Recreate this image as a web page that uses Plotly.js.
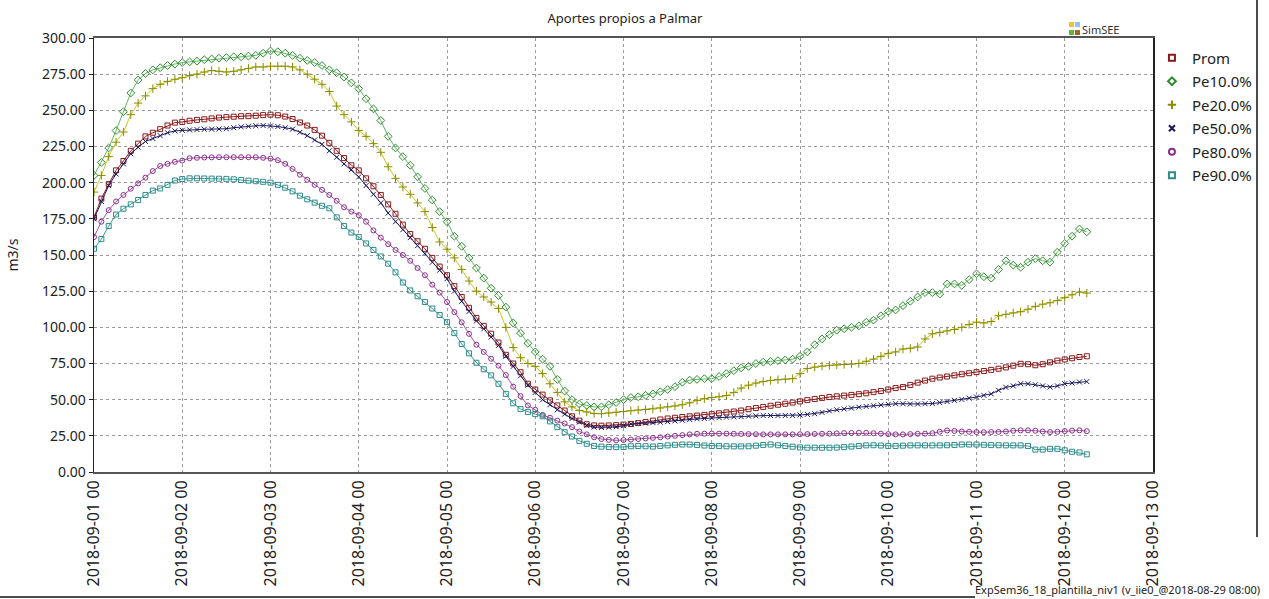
<!DOCTYPE html>
<html><head><meta charset="utf-8">
<script src="https://cdn.plot.ly/plotly-3.0.1.min.js"></script>
<style>html,body{margin:0;padding:0;background:#fff;}#chart{width:1269px;height:599px;}</style>
</head><body><div id="chart"></div><script>
// Time grid: first sample and sampling step (hours)
const startTime = Date.UTC(2018, 8, 1, 0, 0, 0);
const stepHours = 2;

const seriesNames = ['Prom', 'Pe10.0%', 'Pe20.0%', 'Pe50.0%', 'Pe80.0%', 'Pe90.0%'];

const prom = [
176,189,199,208.5,215,222,227,232,234.5,237,
239.5,241.5,242,242.8,243.4,243.8,244.4,245,245.3,245.6,
245.9,246,246.3,246.7,247,246.6,245.7,244,241.6,239.5,
236.5,232.5,227.5,222,217,212,208.5,203,197.5,191.5,
185,178.5,171,164.5,159.5,154.3,148,142,136,128.5,
121,113.5,106.5,101,95.6,89.5,81,75,69,61,
57,53.5,49.5,46,42.5,38.5,35.5,33,32.2,32,
32.2,32.4,32.8,33.2,33.8,34.6,35.5,36.3,37,37.5,
38,38.5,39,39.5,40,40.6,41.2,41.8,42.5,43.4,
44.2,45,45.8,46.5,47.2,48,48.8,49.7,50.5,51.2,
51.8,52.3,52.8,53.3,53.8,54.4,55.2,56,57,58,
58.7,60.2,61.8,63.2,64.5,65.3,66,66.8,67.6,68.3,
69,69.8,70.6,71.4,72.3,73.5,74.8,74.5,73.8,74.5,
75.8,77,77.8,78.6,79.5,80];

const pe10 = [
205,214,224,236,249,262,271,275.5,278,279.5,
281,282,283,283.5,284,285,285.5,286,286.5,287,
287,287.5,288,289.5,291,290.5,289.5,288,286,284.5,
283,281,278,276,273,269,265,258,251,243,
232,224,218,212,204,196,188,180,173,163,
156,148,141,134,127,122,114,103,96,89,
83,78,73,64,56,50,47,46,45,45,
46.5,48,50,51.5,52,53,54,55.5,57,59,
62,63.5,64,64.5,64.5,66,68,70,72,73,
75,76,76.5,77,77.5,78,80,83,88,92,
95,98,99,100,101,103.5,105,108,111,112,
115,118,121,124,124,123,130,130,129,133,
137,135,134,140,146,143,141.5,145,147.5,146,
145,152,158,163,168,166];

const pe20 = [
193.5,205,218,228,235,247,255,260,265,268,
270,271.5,272.5,274,275,276.5,277.5,277,276.5,277,
278,279,280,280,280.5,280.5,280.5,280,278,275,
271.5,268,263,253,247,242,236,232,227,221,
211,203,197,192,186,180,169,159,154,148,
140,132,125,121,117.5,113,100,86,79,75,
73,68,61,55,48.5,45,42.5,41.5,40.5,40.3,
40.8,41.3,41.8,42.3,42.8,43.2,43.6,44.2,45,45.6,
46.5,47.8,49.5,50.7,51.5,52,52.8,55,58,60,
61.5,62.5,63.3,63.8,64.2,64.5,68,71.5,72.5,73.2,
73.7,74,74.3,74.6,75,76.5,78,80,82,83,
85,85.5,86.4,92,95.5,96.5,97.5,98.5,100,102,
103.6,103,104,108,109,110,110.8,112.5,114.5,116,
117,118.5,120.5,122.5,124.4,123.7];

const pe50 = [
175,187,198,206,213,220,224.5,228.5,230.5,232.5,
234.5,235.8,236.2,236.5,236.7,236.9,237,237.1,237.3,238,
238.6,239,239.3,239.5,239.2,238.8,238,237,234.8,232.5,
229.5,226.5,222,217.6,213,209,204,198,192,186,
179,173,167.5,162,156.5,151,145,139.5,133.6,125,
118,111,104.5,99,93.3,87.5,80,73,66.5,60,
55,50,46.5,43,40,37,34.5,32.2,31,30.8,
31,31.3,32,33.2,33.5,33.8,34.1,34.4,34.8,35.3,
35.8,36.3,36.8,37,37.3,37.6,37.9,38.1,38.3,38.6,
38.8,39,39,39,39,39,39.4,39.8,40.3,41.2,
42.2,43,43.6,44.2,44.8,45.3,45.8,46.3,46.8,47.2,
47.2,47,47,47.2,47.3,48,48.7,49.5,50.2,51,
51.8,53,54,56.5,58.5,59.5,61,61,60.3,59.5,
58.7,59.5,61,61.5,62.2,62.5];

const pe80 = [
162.4,173,181,187,191.5,195.8,199.5,203.5,208,211.5,
213,214.4,215.3,216.9,217.2,217.4,217.5,217.6,217.6,217.6,
217.6,217.6,217.6,217.2,216.6,215.5,213,209.5,205.5,202,
198.5,195,191.5,187.5,183,180,177.5,173,167,162,
157.5,153.5,150,146,141,136,129.5,124,117.5,110.5,
103.5,95.5,88,83,78.3,73.5,67,59,52.5,46,
43,39.5,37.5,35.5,33.5,31,28,26,24,22.8,
22.2,21.9,22.1,22.4,22.8,23.2,23.6,24,24.5,25,
25.5,26,26.4,26.5,26.6,26.5,26.5,26.4,26.3,26.2,
26.1,26,26,26,26,26,26.1,26.2,26.3,26.4,
26.5,26.7,26.9,27,27.1,27.1,26.8,26.5,26.2,26,
26,26.2,26.4,26.5,26.8,27.8,28.7,28.4,28,27.8,
27.6,27.5,27.6,27.7,28,28.5,28.8,28.8,28.5,28,
27.6,27.8,28.3,28.6,28.8,28.2];

const pe90 = [
154.3,161,170,178,182,185,188,191.5,194.5,196,
198.5,201.5,202.5,203,203,202.9,202.8,202.7,202.6,202.3,
201.8,201.4,201,200.6,200,198.5,196.5,194,191,188.5,
186.2,184,182.3,176,170,165.5,162.5,158,153.5,149,
144,138,131,125.5,121.5,117.5,113,108.5,103.6,96,
88.5,82,75.5,71,66.8,61,54,47.5,43.5,41.5,
40,38.5,35,31,27.5,24.5,21.5,19.5,18,17.5,
17.3,17.2,17.3,17.8,18,17.8,17.6,18,18.4,18.8,
19,19,18.7,18.3,18,18,17.8,17.7,17.7,17.8,
18.2,18.7,19,18.5,18,17.5,17,16.8,16.8,16.8,
16.8,16.9,17.2,17.6,18,18.4,18.5,18.3,18,18,
18.2,18.4,18.4,18.4,18.4,18.4,18.5,18.7,19,19,
19,18.8,18.6,18.5,18.4,18.4,18.4,18,15.5,15.5,
16,16,15,14,13.5,12.2];

const yTickValues = [0,25,50,75,100,125,150,175,200,225,250,275,300];
const footerText = 'ExpSem36_18_plantilla_niv1 (v_iie0_@2018-08-29 08:00)';

function fmt(ms){ return new Date(ms).toISOString().slice(0,16).replace('T',' '); }
const times = prom.map((_, i) => fmt(startTime + i * stepHours * 3600000));

const allSeries = [prom, pe10, pe20, pe50, pe80, pe90];
const styles = [
  {mc:'#8b1a1a', lc:'#8b1a1a', sym:'square-open',      size:5},
  {mc:'#2e8b2e', lc:'#5fb85f', sym:'diamond-open',     size:6},
  {mc:'#8b8b00', lc:'#c8c820', sym:'cross-thin-open',  size:6},
  {mc:'#191960', lc:'#191960', sym:'x-thin-open',      size:5},
  {mc:'#8b2f8b', lc:'#a050a0', sym:'circle-open',      size:5},
  {mc:'#2e8b8b', lc:'#3a9a9a', sym:'square-open',      size:5}
];

const traces = [];
allSeries.forEach((ys, k) => {
  const s = styles[k];
  traces.push({
    type:'scatter', mode:'lines+markers', x: times, y: ys, name: seriesNames[k],
    showlegend:false,
    line:{color:s.lc, width:1},
    marker:{symbol:s.sym, size:s.size, color:s.mc, line:{color:s.mc, width:1}}
  });
});
allSeries.forEach((ys, k) => {
  const s = styles[k];
  traces.push({
    type:'scatter', mode:'markers', x:[null], y:[null], name: seriesNames[k],
    legendgroup:'g'+k, showlegend:true,
    marker:{symbol:s.sym, size:6, color:s.mc, line:{color:s.mc, width:2}}
  });
});

const fontFam = '"Noto Sans", "Open Sans", sans-serif';
const layout = {
  width:1269, height:599,
  margin:{l:94, r:116, t:38, b:127},
  paper_bgcolor:'#ffffff', plot_bgcolor:'#ffffff',
  font:{family:fontFam, size:14, color:'#222'},
  title:{text:'Aportes propios a Palmar', font:{size:13, color:'#222'}, xref:'container', yref:'container', x:0.4925, y:0.97, xanchor:'center', yanchor:'middle'},
  xaxis:{
    type:'date', range:['2018-09-01 00:00','2018-09-13 00:00'],
    tick0:'2018-09-01 00:00', dtick:86400000, tickformat:'%Y-%m-%d %H',
    tickangle:-90, tickfont:{size:16, color:'#222'},
    showgrid:true, gridcolor:'#9a9a9a', griddash:'3px,3px', gridwidth:1,
    showline:true, linecolor:'#555', linewidth:2, mirror:true,
    ticks:'', zeroline:false, automargin:false
  },
  yaxis:{
    range:[0,300], tickvals:yTickValues, tickformat:'.2f',
    tickfont:{size:14, color:'#222'},
    title:{text:'m3/s', font:{size:14, color:'#222'}, standoff:20},
    showgrid:true, gridcolor:'#9a9a9a', griddash:'3px,3px', gridwidth:1,
    showline:true, linecolor:'#222', linewidth:1.5, mirror:true,
    ticks:'outside', ticklen:4, tickcolor:'#222', zeroline:false, automargin:false
  },
  legend:{x:0.999, xanchor:'left', y:0.992, yanchor:'top', font:{size:15, color:'#222'},
    traceorder:'grouped', tracegroupgap:1, bgcolor:'rgba(0,0,0,0)'},
  shapes:[
    {type:'rect', xref:'paper', yref:'paper', xsizemode:'pixel', ysizemode:'pixel', xanchor:1, yanchor:1, x0:-84, x1:-79, y0:16, y1:11, fillcolor:'#f2c12e', line:{width:0}},
    {type:'rect', xref:'paper', yref:'paper', xsizemode:'pixel', ysizemode:'pixel', xanchor:1, yanchor:1, x0:-78, x1:-73, y0:16, y1:11, fillcolor:'#8ec5f0', line:{width:0}},
    {type:'rect', xref:'paper', yref:'paper', xsizemode:'pixel', ysizemode:'pixel', xanchor:1, yanchor:1, x0:-84, x1:-79, y0:8, y1:3, fillcolor:'#5db83a', line:{width:0}},
    {type:'rect', xref:'paper', yref:'paper', xsizemode:'pixel', ysizemode:'pixel', xanchor:1, yanchor:1, x0:-78, x1:-73, y0:8, y1:3, fillcolor:'#9c6a1e', line:{width:0}},
    {type:'line', xref:'paper', yref:'paper', ysizemode:'pixel', yanchor:0, x0:-94/1059, x1:(975-94)/1059, y0:-125, y1:-125, line:{color:'#111', width:1.5}},
    {type:'line', xref:'paper', yref:'paper', xsizemode:'pixel', ysizemode:'pixel', xanchor:1, yanchor:1, x0:104, x1:104, y0:38, y1:-499, line:{color:'#111', width:1.5}}
  ],
  annotations:[
    {text:'SimSEE', xref:'paper', yref:'paper', x:1, y:1, xanchor:'left', yanchor:'bottom', xshift:-73, yshift:-1, showarrow:false, font:{size:11, color:'#333'}},
    {text:footerText, xref:'paper', yref:'paper', x:1, y:0, xanchor:'right', yanchor:'bottom', xshift:109, yshift:-127, showarrow:false, font:{size:11, color:'#222'}}
  ]
};

Plotly.newPlot('chart', traces, layout, {displayModeBar:false, staticPlot:true});
</script></body></html>
